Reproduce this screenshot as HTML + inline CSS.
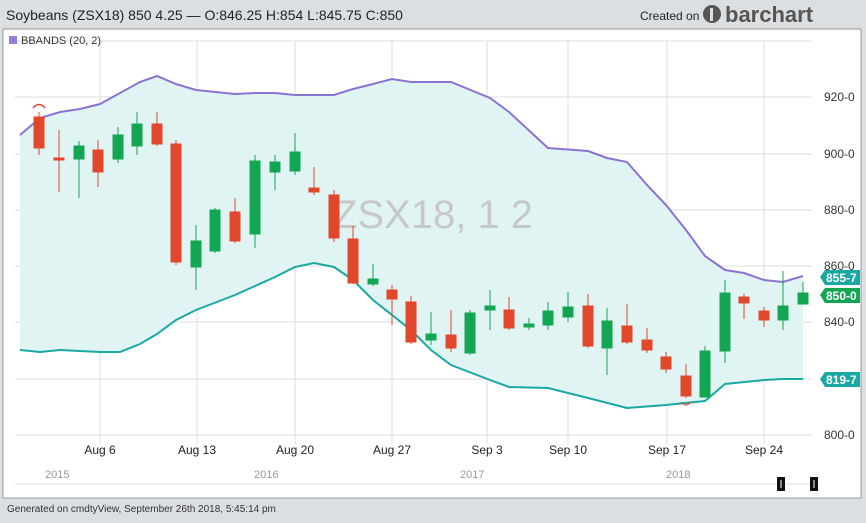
<!DOCTYPE html>
<html><head><meta charset="utf-8"><style>
body{margin:0;width:866px;height:518px;background:#dcdfe2;overflow:hidden;font-family:"Liberation Sans",sans-serif}
</style></head><body>
<svg width="866" height="518" xmlns="http://www.w3.org/2000/svg" font-family="Liberation Sans, sans-serif">
<rect x="0" y="0" width="866" height="518" fill="#dcdfe2"/>
<text x="6" y="20" font-size="14" fill="#222">Soybeans (ZSX18) 850 4.25 — O:846.25 H:854 L:845.75 C:850</text>
<text x="640" y="20" font-size="12" fill="#222">Created on</text>
<circle cx="712" cy="14" r="9" fill="#555"/><rect x="710" y="8" width="3" height="13" fill="#dcdfe2"/>
<text x="725" y="22" font-size="22" font-weight="bold" fill="#555">barchart</text>
<rect x="3" y="29" width="858" height="469" fill="#fff" stroke="#999" stroke-width="1"/>
<g stroke="#ddd" stroke-width="1">
<line x1="15" y1="41" x2="812" y2="41"/>
<line x1="15" y1="97" x2="812" y2="97"/><line x1="15" y1="154" x2="812" y2="154"/><line x1="15" y1="210" x2="812" y2="210"/><line x1="15" y1="266" x2="812" y2="266"/><line x1="15" y1="322" x2="812" y2="322"/><line x1="15" y1="379" x2="812" y2="379"/><line x1="15" y1="435" x2="812" y2="435"/><line x1="15" y1="484" x2="812" y2="484"/>
<line x1="100" y1="41" x2="100" y2="444"/><line x1="197" y1="41" x2="197" y2="444"/><line x1="295" y1="41" x2="295" y2="444"/><line x1="392" y1="41" x2="392" y2="444"/><line x1="487" y1="41" x2="487" y2="444"/><line x1="568" y1="41" x2="568" y2="444"/><line x1="667" y1="41" x2="667" y2="444"/><line x1="764" y1="41" x2="764" y2="444"/>
</g>
<rect x="9" y="36" width="8" height="8" fill="#9b7fd6"/>
<text x="21" y="44" font-size="11" fill="#333">BBANDS (20, 2)</text>
<polygon fill="#e0f4f4" points="20,135 40,118 60,112 80,109 100,104 120,93 140,82 157,76 176,84 196,90 235,94 255,93 275,93 295,95 334,95 353,89 373,84 392,79 411,82 451,82 490,98 509,112 548,148 588,151 607,158 627,162 647,185 666,205 686,230 705,256 725,270 744,273 764,280 783,282 803,276 803,379 783,379 764,380 725,384 705,401 666,405 627,408 588,398 548,388 509,387 490,380 451,365 431,350 411,330 392,315 373,300 353,280 334,267 314,263 295,267 275,277 255,286 235,295 196,310 176,320 157,334 140,344 120,352 100,352 60,350 40,352 20,350"/>
<polyline fill="none" stroke="#8b73d1" stroke-width="2" points="20,135 40,118 60,112 80,109 100,104 120,93 140,82 157,76 176,84 196,90 235,94 255,93 275,93 295,95 334,95 353,89 373,84 392,79 411,82 451,82 490,98 509,112 548,148 588,151 607,158 627,162 647,185 666,205 686,230 705,256 725,270 744,273 764,280 783,282 803,276"/>
<polyline fill="none" stroke="#1aa8a3" stroke-width="2" points="20,350 40,352 60,350 100,352 120,352 140,344 157,334 176,320 196,310 235,295 255,286 275,277 295,267 314,263 334,267 353,280 373,300 392,315 411,330 431,350 451,365 490,380 509,387 548,388 588,398 627,408 666,405 705,401 725,384 764,380 783,379 803,379"/>
<text x="433" y="228" font-size="40" fill="#c8c8c8" text-anchor="middle">ZSX18, 1 2</text>
<path d="M33,108 Q39,101 45,108" fill="none" stroke="#e0472b" stroke-width="1.5"/>
<g stroke-width="1">
<g fill="#e0472b" stroke="#e0472b">
<line x1="39" y1="112" x2="39" y2="155"/><rect x="34" y="117" width="10" height="31"/>
<line x1="59" y1="130" x2="59" y2="192"/><rect x="54" y="158" width="10" height="2"/>
<line x1="98" y1="140" x2="98" y2="187"/><rect x="93" y="150" width="10" height="22"/>
<line x1="157" y1="112" x2="157" y2="146"/><rect x="152" y="124" width="10" height="20"/>
<line x1="176" y1="140" x2="176" y2="265"/><rect x="171" y="144" width="10" height="118"/>
<line x1="235" y1="198" x2="235" y2="243"/><rect x="230" y="212" width="10" height="29"/>
<line x1="314" y1="167" x2="314" y2="195"/><rect x="309" y="188" width="10" height="4"/>
<line x1="334" y1="190" x2="334" y2="242"/><rect x="329" y="195" width="10" height="43"/>
<line x1="353" y1="226" x2="353" y2="284"/><rect x="348" y="239" width="10" height="44"/>
<line x1="392" y1="285" x2="392" y2="325"/><rect x="387" y="290" width="10" height="9"/>
<line x1="411" y1="296" x2="411" y2="344"/><rect x="406" y="302" width="10" height="40"/>
<line x1="451" y1="310" x2="451" y2="352"/><rect x="446" y="335" width="10" height="13"/>
<line x1="509" y1="297" x2="509" y2="330"/><rect x="504" y="310" width="10" height="18"/>
<line x1="588" y1="294" x2="588" y2="348"/><rect x="583" y="306" width="10" height="40"/>
<line x1="627" y1="304" x2="627" y2="344"/><rect x="622" y="326" width="10" height="16"/>
<line x1="647" y1="328" x2="647" y2="353"/><rect x="642" y="340" width="10" height="10"/>
<line x1="666" y1="352" x2="666" y2="373"/><rect x="661" y="357" width="10" height="12"/>
<line x1="686" y1="364" x2="686" y2="398"/><rect x="681" y="376" width="10" height="20"/>
<line x1="744" y1="294" x2="744" y2="319"/><rect x="739" y="297" width="10" height="6"/>
<line x1="764" y1="307" x2="764" y2="327"/><rect x="759" y="311" width="10" height="9"/>
</g>
<path d="M681,402 Q686,408 691,402" fill="none" stroke="#e0472b"/>
<g fill="#12a552" stroke="#12a552">
<line x1="79" y1="141" x2="79" y2="198"/><rect x="74" y="146" width="10" height="13"/>
<line x1="118" y1="127" x2="118" y2="163"/><rect x="113" y="135" width="10" height="24"/>
<line x1="137" y1="112" x2="137" y2="155"/><rect x="132" y="124" width="10" height="22"/>
<line x1="196" y1="225" x2="196" y2="290"/><rect x="191" y="241" width="10" height="26"/>
<line x1="215" y1="208" x2="215" y2="253"/><rect x="210" y="210" width="10" height="41"/>
<line x1="255" y1="155" x2="255" y2="248"/><rect x="250" y="161" width="10" height="73"/>
<line x1="275" y1="155" x2="275" y2="190"/><rect x="270" y="162" width="10" height="10"/>
<line x1="295" y1="133" x2="295" y2="175"/><rect x="290" y="152" width="10" height="19"/>
<line x1="373" y1="264" x2="373" y2="286"/><rect x="368" y="279" width="10" height="5"/>
<line x1="431" y1="312" x2="431" y2="345"/><rect x="426" y="334" width="10" height="6"/>
<line x1="470" y1="310" x2="470" y2="355"/><rect x="465" y="313" width="10" height="40"/>
<line x1="490" y1="290" x2="490" y2="330"/><rect x="485" y="306" width="10" height="4"/>
<line x1="529" y1="318" x2="529" y2="330"/><rect x="524" y="324" width="10" height="3"/>
<line x1="548" y1="302" x2="548" y2="330"/><rect x="543" y="311" width="10" height="14"/>
<line x1="568" y1="292" x2="568" y2="322"/><rect x="563" y="307" width="10" height="10"/>
<line x1="607" y1="308" x2="607" y2="375"/><rect x="602" y="321" width="10" height="27"/>
<line x1="705" y1="346" x2="705" y2="397"/><rect x="700" y="351" width="10" height="46"/>
<line x1="725" y1="280" x2="725" y2="363"/><rect x="720" y="293" width="10" height="58"/>
<line x1="783" y1="271" x2="783" y2="330"/><rect x="778" y="306" width="10" height="14"/>
<line x1="803" y1="282" x2="803" y2="304"/><rect x="798" y="293" width="10" height="11"/>
</g></g>
<g font-size="12" fill="#333">
<text x="824" y="101">920-0</text><text x="824" y="158">900-0</text><text x="824" y="214">880-0</text><text x="824" y="270">860-0</text><text x="824" y="326">840-0</text><text x="824" y="439">800-0</text>
</g>
<polygon points="820,277 825,270 860,270 860,285 825,285" fill="#1aa8a3"/>
<text x="826" y="282" font-size="12" font-weight="bold" fill="#fff">855-7</text>
<polygon points="820,295 825,288 860,288 860,303 825,303" fill="#12a552"/>
<text x="826" y="300" font-size="12" font-weight="bold" fill="#fff">850-0</text>
<polygon points="820,379 825,372 860,372 860,387 825,387" fill="#1aa8a3"/>
<text x="826" y="384" font-size="12" font-weight="bold" fill="#fff">819-7</text>
<g font-size="12" fill="#222" text-anchor="middle">
<text x="100" y="454">Aug 6</text><text x="197" y="454">Aug 13</text><text x="295" y="454">Aug 20</text><text x="392" y="454">Aug 27</text><text x="487" y="454">Sep 3</text><text x="568" y="454">Sep 10</text><text x="667" y="454">Sep 17</text><text x="764" y="454">Sep 24</text>
</g>
<g font-size="11" fill="#999">
<text x="45" y="478">2015</text><text x="254" y="478">2016</text><text x="460" y="478">2017</text><text x="666" y="478">2018</text>
</g>
<rect x="777" y="477" width="8" height="14" fill="#111"/><line x1="781" y1="480" x2="781" y2="488" stroke="#fff"/>
<rect x="810" y="477" width="8" height="14" fill="#111"/><line x1="814" y1="480" x2="814" y2="488" stroke="#fff"/>
<text x="7" y="512" font-size="10" fill="#333">Generated on cmdtyView, September 26th 2018, 5:45:14 pm</text>
</svg>
</body></html>
